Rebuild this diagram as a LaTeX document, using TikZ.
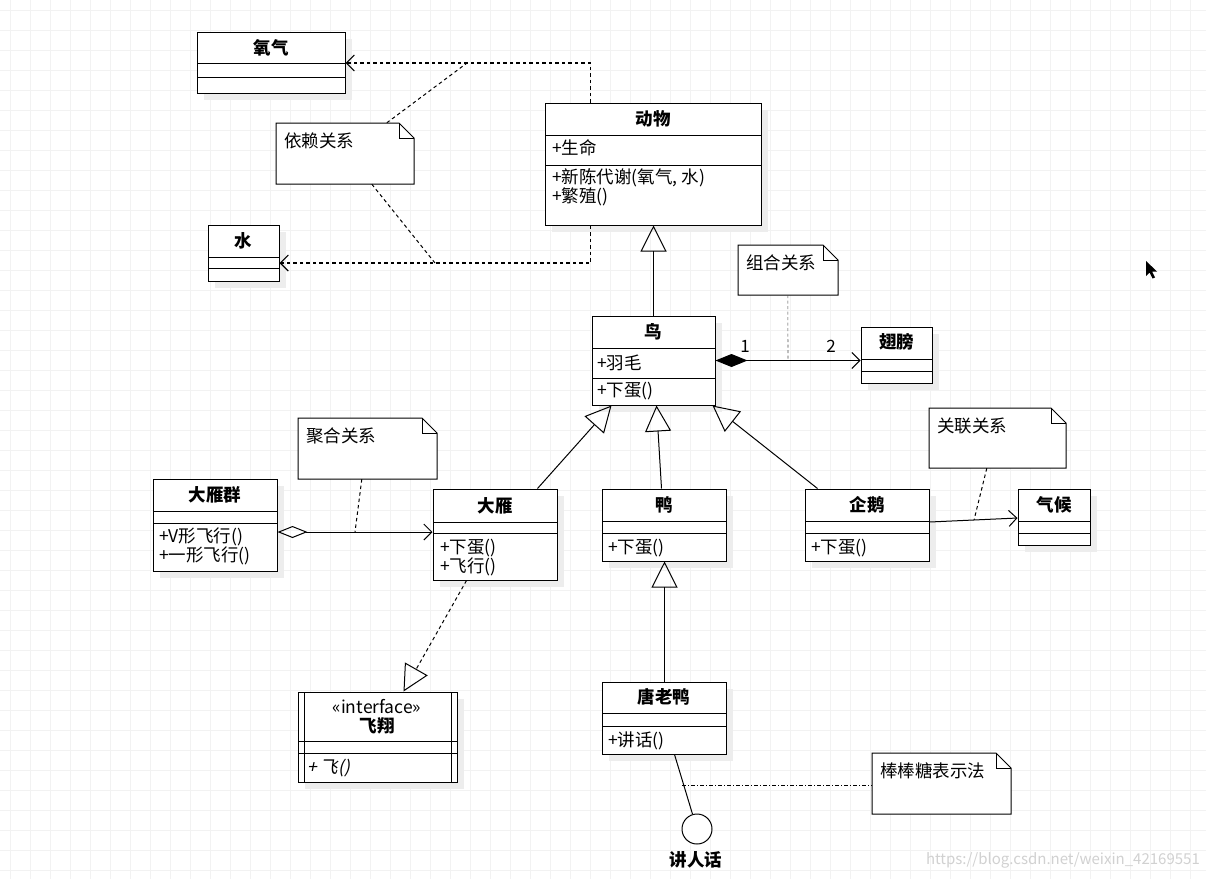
\documentclass[tikz,border=0pt]{standalone}
\usepackage{fontspec}
\setmainfont{Noto Sans CJK SC}[AutoFakeSlant=0.2]
\usetikzlibrary{arrows.meta}
\tikzset{
  cls/.style={draw, line width=1pt, fill=white, inner sep=0pt},
  shadowc/.style={fill=black!7},
  ctitle/.style={font=\bfseries\fontsize{17.5}{19}\selectfont, inner sep=0pt},
  member/.style={anchor=west, font=\fontsize{17.5}{19}\selectfont, inner sep=0pt},
  rel/.style={line width=1pt},
  dep/.style={line width=1.1pt, dash pattern=on 3.5pt off 3pt, -{Straight Barb[length=8pt,width=16pt]}},
  notel/.style={line width=1pt, dash pattern=on 3.5pt off 3pt},
  gen/.style={line width=1pt, -{Triangle[open,length=26pt,width=26pt]}},
  openarr/.style={-{Straight Barb[length=8pt,width=16pt]}},
}
\newcommand\umlclass[9]{%
  \fill[shadowc] ({#2+7},{#3+7}) rectangle ({#4+7},{#5+7});
  \node[cls, minimum width={#4-#2}, minimum height={#5-#3}] (#1) at ({(#2+#4)/2},{(#3+#5)/2}) {};
  \draw[line width=1pt] (#2,#6) -- (#4,#6) (#2,#7) -- (#4,#7);
  \node[ctitle] (#1-t) at ({(#2+#4)/2},#9) {#8};
}
\newcommand\umlnote[6]{%
  \node[inner sep=0pt, minimum width={#4-#2}, minimum height={#5-#3}] (#1) at ({(#2+#4)/2},{(#3+#5)/2}) {};
  \draw[line width=1pt, fill=white] (#2,#3) -- ({#4-15},#3) -- (#4,{#3+15}) -- (#4,#5) -- (#2,#5) -- cycle;
  \draw[line width=0.8pt] ({#4-15},#3) -- ({#4-15},{#3+15}) -- (#4,{#3+15});
  \node[member] (#1-t) at ({#2+8},{#3+18}) {#6};
}
\begin{document}
\begin{tikzpicture}[x=1pt,y=-1pt]
\useasboundingbox (0,0) rectangle (1206,879);
\fill[white] (0,0) rectangle (1206,879);
\foreach \i in {10,30,...,1200} \draw[black!5, line width=0.6pt] (\i,0) -- (\i,879);
\foreach \j in {10,30,...,870} \draw[black!5, line width=0.6pt] (0,\j) -- (1206,\j);

% classes
\umlclass{oxygen}{197}{32}{345}{93}{63}{77}{氧气}{48}
\umlclass{water}{208}{225}{279}{281}{257}{268}{水}{241}
\umlclass{animal}{545}{103}{761}{225}{135}{165}{动物}{119}
\node[member] (animal-a) at (552,148) {+生命};
\node[member] (animal-m1) at (552,178) {+新陈代谢(氧气, 水)};
\node[member] (animal-m2) at (552,197) {+繁殖()};
\umlclass{bird}{592}{316}{715}{405}{348}{378}{鸟}{332}
\node[member] (bird-a) at (597,363) {+羽毛};
\node[member] (bird-m) at (597,391) {+下蛋()};
\umlclass{wing}{861}{327}{932}{383}{359}{371}{翅膀}{342}
\umlclass{flock}{153}{479}{277}{571}{511}{523}{大雁群}{495}
\node[member] (flock-m1) at (159,537) {+V形飞行()};
\node[member] (flock-m2) at (159,556) {+一形飞行()};
\umlclass{goose}{433}{489}{557}{580}{522}{533}{大雁}{506}
\node[member] (goose-m1) at (440,548) {+下蛋()};
\node[member] (goose-m2) at (440,567) {+飞行()};
\umlclass{duck}{602}{489}{726}{561}{521}{533}{鸭}{505}
\node[member] (duck-m) at (608,548) {+下蛋()};
\umlclass{penguin}{805}{489}{929}{561}{521}{533}{企鹅}{505}
\node[member] (penguin-m) at (811,548) {+下蛋()};
\umlclass{climate}{1018}{489}{1090}{545}{521}{533}{气候}{505}
\umlclass{donald}{602}{682}{726}{754}{713}{726}{唐老鸭}{697}
\node[member] (donald-m) at (608,741) {+讲话()};

% interface
\fill[shadowc] (305,699) rectangle (464,789);
\node[cls, minimum width=159, minimum height=90] (iface) at (377.5,737) {};
\draw[line width=1pt] (304,692) -- (304,782) (451,692) -- (451,782)
  (298,741) -- (457,741) (298,753) -- (457,753);
\node[inner sep=0pt, font=\fontsize{17.5}{19}\selectfont] (iface-s) at (377,707) {«interface»};
\node[inner sep=0pt, font=\bfseries\itshape\fontsize{17.5}{19}\selectfont] (iface-t) at (377,726) {飞翔};
\node[member, font=\itshape\fontsize{17.5}{19}\selectfont] (iface-m) at (307,768) {+ 飞()};

% notes
\umlnote{n1}{276}{123}{414}{184}{依赖关系}
\umlnote{n2}{738}{245}{838}{295}{组合关系}
\umlnote{n3}{298}{418}{437}{479}{聚合关系}
\umlnote{n4}{929}{408}{1066}{468}{关联关系}
\umlnote{n5}{872}{753}{1011}{814}{棒棒糖表示法}

% dependencies
\draw[dep] ([xshift=46pt]animal.north west) |- ([yshift=-0.5pt]oxygen.east);
\draw[dep] ([xshift=46pt]animal.south west) |- ([yshift=-10pt]water.east);
\coordinate (d1) at (467,63);
\coordinate (d2) at (435,263);
\draw[notel] ([xshift=111pt]n1.north west) -- (d1);
\draw[notel] ([xshift=96pt]n1.south west) -- (d2);

% generalizations
\draw[gen] (bird.north) -- (bird.north |- animal.south);
\draw[gen] ([xshift=105pt]goose.north west) -- ([xshift=20pt]bird.south west);
\draw[gen] ([xshift=60pt]duck.north west) -- ([xshift=65pt]bird.south west);
\draw[gen] ([xshift=13pt]penguin.north west) -- ([xshift=121pt]bird.south west);
\draw[gen] ([xshift=63pt]donald.north west) -- ([xshift=63pt]duck.south west);

% composition
\draw[rel, {Diamond[length=32pt,width=13pt]}-{Straight Barb[length=8pt,width=16pt]}] (bird.east) -- (bird.east -| wing.west);
\node[inner sep=0pt, font=\fontsize{17}{19}\selectfont] (one) at (745,346) {1};
\node[inner sep=0pt, font=\fontsize{17}{19}\selectfont] (two) at (831,346) {2};
\coordinate (c1) at (788,360);
\draw[black!70, line width=0.6pt, dash pattern=on 3pt off 2.5pt] ([xshift=50pt]n2.south west) -- (c1);

% aggregation
\coordinate (aggy) at (0,532);
\draw[rel, {Diamond[open,length=30pt,width=12pt]}-{Straight Barb[length=8pt,width=16pt]}] (flock.east |- aggy) -- (goose.west |- aggy);
\coordinate (a1) at (355,532);
\draw[notel] ([xshift=64pt]n3.south west) -- (a1);

% association
\draw[rel, openarr] ([yshift=3pt]penguin.east) -- ([yshift=-1pt]climate.west);
\coordinate (s1) at (974,520);
\draw[notel] ([xshift=58pt]n4.south west) -- (s1);

% realization
\draw[line width=1pt, dash pattern=on 3.5pt off 3pt, -{Triangle[open,length=26pt,width=26pt]}] ([xshift=34pt]goose.south west) -- ([xshift=106pt]iface.north west);

% lollipop
\node[draw, line width=1pt, fill=white, circle, minimum size=30pt, inner sep=0pt] (lolly) at (697,829) {};
\draw[rel] ([xshift=73pt]donald.south west) -- (lolly);
\node[inner sep=0pt, font=\bfseries\fontsize{17.5}{19}\selectfont] (lolly-t) at (696,860) {讲人话};
\coordinate (l1) at (682,785);
\draw[line width=0.9pt, dash pattern=on 4pt off 2pt on 1pt off 2pt] (l1) -- (n5.west |- l1);

% cursor
\fill[black] (1146,261) -- (1146,276) -- (1149.5,272.5) -- (1152.5,278.5) -- (1155,277.5) -- (1152,271.5) -- (1157,271.5) -- cycle;

% watermark
\node[anchor=east, inner sep=0pt, text=black!18, font=\fontsize{15}{17}\selectfont] (wm) at (1200,860) {https://blog.csdn.net/weixin\_42169551};
\end{tikzpicture}
\end{document}
